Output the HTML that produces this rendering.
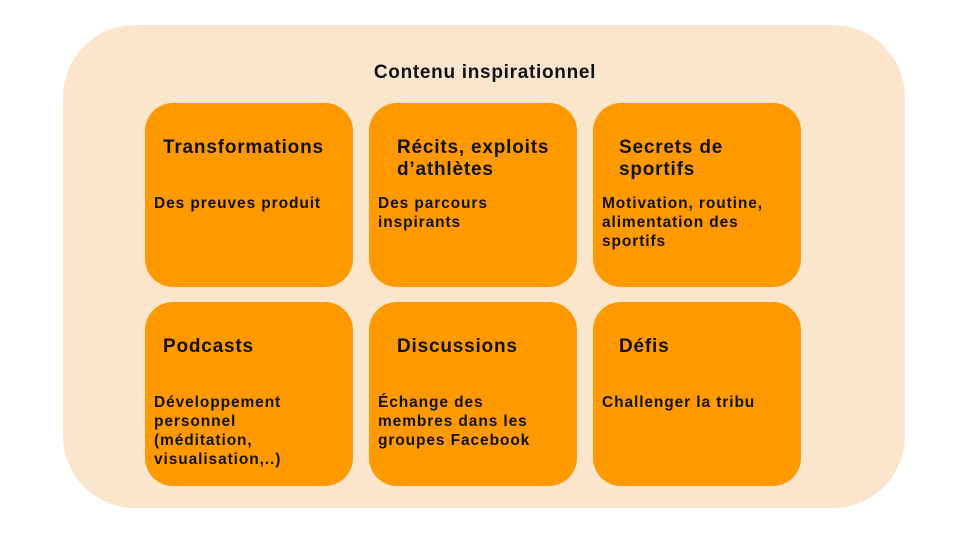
<!DOCTYPE html>
<html><head><meta charset="utf-8"><style>
body{margin:0;width:960px;height:540px;background:#fff;position:relative;overflow:hidden;font-family:"Liberation Sans",sans-serif;font-weight:bold;color:#111}
.outer{position:absolute;left:63px;top:25px;width:842px;height:483px;border-radius:72px;background:#FCE5CD}
.t{position:absolute;left:0;width:960px;top:62px;text-align:center;font-size:19px;letter-spacing:0.7px;padding-left:10px;box-sizing:border-box}
.c{position:absolute;width:208px;height:184px;border-radius:28px;background:#FF9900}
.h{position:absolute;left:18px;top:34px;font-size:19px;line-height:22px;letter-spacing:0.8px}
.b{position:absolute;left:9px;top:91px;font-size:15.5px;line-height:19px;letter-spacing:0.9px}
</style></head><body>
<div class="outer"></div>
<div class="t">Contenu inspirationnel</div>
<div class="c" style="left:145px;top:103px"><div class="h">Transformations</div><div class="b">Des preuves produit</div></div>
<div class="c" style="left:369px;top:103px"><div class="h" style="left:28px">Récits, exploits<br>d’athlètes</div><div class="b">Des parcours<br>inspirants</div></div>
<div class="c" style="left:593px;top:103px"><div class="h" style="left:26px">Secrets de<br>sportifs</div><div class="b">Motivation, routine,<br>alimentation des<br>sportifs</div></div>
<div class="c" style="left:145px;top:302px"><div class="h">Podcasts</div><div class="b">Développement<br>personnel<br>(méditation,<br>visualisation,..)</div></div>
<div class="c" style="left:369px;top:302px"><div class="h" style="left:28px">Discussions</div><div class="b">Échange des<br>membres dans les<br>groupes Facebook</div></div>
<div class="c" style="left:593px;top:302px"><div class="h" style="left:26px">Défis</div><div class="b">Challenger la tribu</div></div>
</body></html>
